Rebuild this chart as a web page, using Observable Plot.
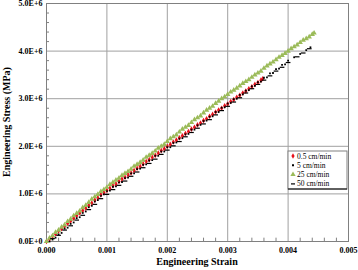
<!DOCTYPE html>
<html><head><meta charset="utf-8">
<script src="https://cdn.jsdelivr.net/npm/d3@7"></script>
<script src="https://cdn.jsdelivr.net/npm/@observablehq/plot@0.6"></script>
<style>body{margin:0;background:#fff}</style>
</head><body><div id="chart"></div>
<script>
// strain values in units of 1e-3, stress values in units of 1e6
const seriesNames = ["0.5 cm/min", "5 cm/min", "25 cm/min", "50 cm/min"];
const xTicks = [0, 0.001, 0.002, 0.003, 0.004, 0.005];
const xTickLabels = ["0.000", "0.001", "0.002", "0.003", "0.004", "0.005"];
const yTicks = [0, 1, 2, 3, 4, 5];
const yTickLabels = ["0.0E+0", "1.0E+6", "2.0E+6", "3.0E+6", "4.0E+6", "5.0E+6"];

// 0.5 cm/min (red)
const strainRed = [0,0.05,0.10,0.15,0.20,0.25,0.30,0.35,0.40,0.45,0.50,0.55,0.60,0.65,0.70,0.75,0.80,0.85,0.90,0.95,1.00,1.05,1.10,1.15,1.20,1.25,1.30,1.35,1.40,1.45,1.50,1.55,1.60,1.65,1.70,1.75,1.80,1.85,1.90,1.95,2.00,2.05,2.10,2.15,2.20,2.25,2.30,2.35,2.40,2.45,2.50,2.55,2.60,2.65,2.70,2.75,2.80,2.85,2.90,2.95,3.00,3.05,3.10,3.15,3.20,3.25,3.30,3.35,3.40,3.45,3.50,3.55,3.58];
const stressRed = [0.00,0.05,0.11,0.16,0.22,0.27,0.32,0.38,0.43,0.49,0.54,0.60,0.65,0.70,0.76,0.81,0.87,0.92,0.98,1.03,1.07,1.12,1.17,1.21,1.26,1.31,1.35,1.40,1.44,1.49,1.54,1.58,1.63,1.68,1.72,1.77,1.81,1.86,1.91,1.95,2.00,2.04,2.09,2.13,2.18,2.22,2.27,2.31,2.36,2.40,2.45,2.49,2.54,2.58,2.63,2.67,2.72,2.76,2.80,2.85,2.89,2.94,2.98,3.03,3.07,3.12,3.16,3.21,3.25,3.30,3.34,3.39,3.42];

// 5 cm/min (black squares)
const strainB5 = [0.05,0.10,0.15,0.20,0.25,0.30,0.35,0.40,0.45,0.50,0.55,0.60,0.65,0.70,0.75,0.80,0.85,0.90,0.95,1.00,1.05,1.10,1.15,1.20,1.25,1.30,1.35,1.40,1.45,1.50,1.55,1.60,1.65,1.70,1.75,1.80,1.85,1.90,1.95,2.00,2.05,2.10,2.15,2.20,2.25,2.30,2.35,2.40,2.45,2.50,2.55,2.60,2.65,2.70,2.75,2.80,2.85,2.90,2.95,3.00,3.05,3.10,3.15,3.20,3.25,3.30,3.35,3.40,3.45,3.50,3.55,3.60,3.65,3.70,3.75,3.80,3.85,3.90,3.95,4.00,4.10,4.20,4.30,4.37];
const stressB5 = [0.00,0.04,0.08,0.15,0.18,0.27,0.29,0.37,0.40,0.49,0.51,0.60,0.63,0.72,0.75,0.84,0.87,0.96,0.99,1.06,1.07,1.15,1.16,1.24,1.25,1.33,1.34,1.43,1.43,1.52,1.53,1.61,1.62,1.70,1.71,1.80,1.80,1.89,1.89,1.98,1.98,2.07,2.08,2.16,2.17,2.25,2.26,2.35,2.35,2.44,2.45,2.53,2.54,2.62,2.63,2.72,2.72,2.81,2.82,2.90,2.91,2.99,3.00,3.08,3.09,3.17,3.18,3.26,3.27,3.35,3.36,3.44,3.45,3.53,3.54,3.62,3.63,3.71,3.72,3.80,3.87,3.94,4.02,4.08];

// 25 cm/min (green triangles)
const strainGreen = [0,0.05,0.10,0.15,0.20,0.25,0.30,0.35,0.40,0.45,0.50,0.55,0.60,0.65,0.70,0.75,0.80,0.85,0.90,0.95,1.00,1.05,1.10,1.15,1.20,1.25,1.30,1.35,1.40,1.45,1.50,1.55,1.60,1.65,1.70,1.75,1.80,1.85,1.90,1.95,2.00,2.05,2.10,2.15,2.20,2.25,2.30,2.35,2.40,2.45,2.50,2.55,2.60,2.65,2.70,2.75,2.80,2.85,2.90,2.95,3.00,3.05,3.10,3.15,3.20,3.25,3.30,3.35,3.40,3.45,3.50,3.55,3.60,3.65,3.70,3.75,3.80,3.85,3.90,3.95,4.00,4.05,4.10,4.15,4.20,4.25,4.30,4.35,4.40,4.43];
const stressGreen = [0.00,0.07,0.12,0.19,0.24,0.30,0.35,0.42,0.47,0.54,0.59,0.64,0.71,0.76,0.82,0.89,0.94,0.99,1.05,1.09,1.14,1.20,1.24,1.29,1.33,1.39,1.43,1.47,1.52,1.58,1.62,1.66,1.71,1.77,1.81,1.85,1.90,1.96,2.00,2.04,2.10,2.16,2.20,2.24,2.30,2.36,2.40,2.44,2.50,2.56,2.60,2.64,2.70,2.76,2.80,2.84,2.90,2.95,3.00,3.04,3.09,3.14,3.18,3.22,3.27,3.32,3.36,3.40,3.45,3.50,3.54,3.58,3.64,3.69,3.73,3.77,3.82,3.87,3.91,3.95,4.00,4.05,4.09,4.13,4.18,4.23,4.26,4.30,4.35,4.38];

// 50 cm/min (black dashes)
const strainB50 = [0.10,0.20,0.30,0.40,0.50,0.60,0.70,0.80,0.90,1.00,1.10,1.20,1.30,1.40,1.50,1.60,1.70,1.80,1.90,2.00,2.10,2.20,2.30,2.40,2.50,2.60,2.70,2.80,2.90,3.00,3.10,3.20,3.30,3.40,3.50,3.60,3.70,3.80,3.90,4.00,4.15,4.25,4.35];
const stressB50 = [0.06,0.13,0.24,0.33,0.45,0.55,0.67,0.78,0.90,0.99,1.09,1.18,1.27,1.37,1.46,1.55,1.64,1.73,1.83,1.92,2.01,2.10,2.20,2.29,2.38,2.47,2.56,2.66,2.75,2.84,2.93,3.02,3.12,3.21,3.30,3.39,3.48,3.58,3.66,3.76,3.88,3.96,4.05];

const colors = ["#e8101a", "#000000", "#9bbb59", "#000000"];

const toRows = (xs, ys) => xs.map((x, i) => ({strain: x / 1000, stress: ys[i]}));
const red = toRows(strainRed, stressRed);
const b5 = toRows(strainB5, stressB5);
const green = toRows(strainGreen, stressGreen);
const b50 = toRows(strainB50, stressB50);

const dash = {draw(ctx, size) { const w = Math.sqrt(size) * 1.1; ctx.rect(-w, -0.6, 2 * w, 1.2); }};

const minorX = d3.range(0, 26).map(i => i * 0.0002).filter(v => !xTicks.some(t => Math.abs(t - v) < 1e-9));
const minorY = d3.range(0, 26).map(i => i * 0.2).filter(v => !yTicks.some(t => Math.abs(t - v) < 1e-9));

const chart = Plot.plot({
  width: 358, height: 270,
  marginLeft: 46, marginRight: 10, marginTop: 3, marginBottom: 29,
  style: {fontFamily: "'Liberation Serif', 'Times New Roman', serif", fontSize: "8px", fontWeight: "bold", background: "#fff", color: "#000", overflow: "visible"},
  x: {domain: [0, 0.005], ticks: xTicks, tickFormat: d => xTickLabels[xTicks.findIndex(t => Math.abs(t - d) < 1e-9)], tickSize: 0, tickPadding: 6, label: null},
  y: {domain: [0, 5], ticks: yTicks, tickFormat: d => yTickLabels[yTicks.indexOf(d)], tickSize: 0, tickPadding: 4, label: null},
  marks: [
    Plot.ruleX(xTicks.slice(1, -1), {stroke: "#a0a0a0", strokeWidth: 1}),
    Plot.ruleY(yTicks.slice(1, -1), {stroke: "#a0a0a0", strokeWidth: 1}),
    Plot.ruleX(minorX, {y1: 0, y2: 0.07, stroke: "#808080"}),
    Plot.ruleY(minorY, {x1: 0, x2: 0.00005, stroke: "#808080"}),
    Plot.frame({stroke: "#808080"}),
    Plot.dot(red, {x: "strain", y: "stress", symbol: "diamond", r: 1.7, fill: colors[0], stroke: "none"}),
    Plot.dot(b5, {x: "strain", y: "stress", symbol: "square", r: 1.0, fill: colors[1], stroke: "none"}),
    Plot.dot(green, {x: "strain", y: "stress", symbol: "triangle", r: 2.0, fill: colors[2], stroke: "none"}),
    Plot.dot(b50, {x: "strain", y: "stress", symbol: dash, r: 1.2, fill: colors[3], stroke: "none"})
  ]
});
document.getElementById("chart").append(chart);

const svg = d3.select(chart);
svg.append("text").attr("x", 197).attr("y", 265).attr("text-anchor", "middle").attr("fill", "#000")
  .style("font-size", "10px").style("font-weight", "bold").text("Engineering Strain");
svg.append("text").attr("transform", "translate(10,122) rotate(-90)").attr("text-anchor", "middle").attr("fill", "#000")
  .style("font-size", "10px").style("font-weight", "bold").text("Engineering Stress (MPa)");

// legend
const lg = svg.append("g").attr("transform", "translate(288,151)");
lg.append("rect").attr("width", 59).attr("height", 38).attr("fill", "#fff").attr("stroke", "#808080");
lg.append("line").attr("x1", 0).attr("x2", 59).attr("y1", 38).attr("y2", 38).attr("stroke", "#000");
const sym = [d3.symbolDiamond, d3.symbolSquare, d3.symbolTriangle, null];
const sizes = [9, 4, 12, 0];
seriesNames.forEach((name, i) => {
  const y = 5 + i * 9.3;
  if (sym[i]) {
    lg.append("path").attr("d", d3.symbol(sym[i], sizes[i])()).attr("transform", `translate(5,${y})`).attr("fill", colors[i]);
  } else {
    lg.append("rect").attr("x", 3).attr("y", y - 0.6).attr("width", 4).attr("height", 1.2).attr("fill", colors[i]);
  }
  lg.append("text").attr("x", 9).attr("y", y + 2.5).attr("text-anchor", "start").attr("fill", "#000")
    .style("font-size", "7.5px").style("font-weight", "normal").text(name);
});
</script>
</body></html>
